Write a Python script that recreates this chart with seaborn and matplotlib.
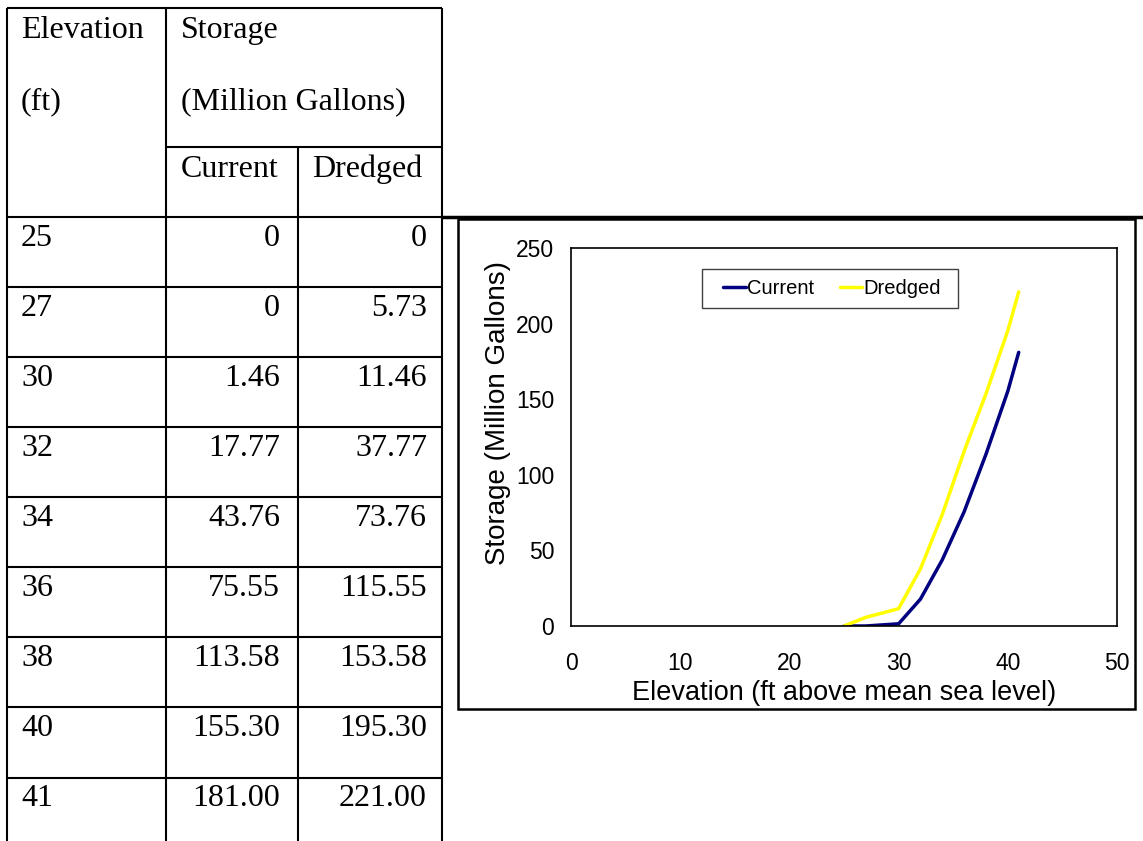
import matplotlib
matplotlib.use("Agg")
import matplotlib.pyplot as plt
from matplotlib.lines import Line2D
from matplotlib.patches import Rectangle
import pandas as pd
import seaborn as sns

# Reservoir storage by water-surface elevation
elevation_labels = ["25", "27", "30", "32", "34", "36", "38", "40", "41"]
current_labels = ["0", "0", "1.46", "17.77", "43.76", "75.55", "113.58", "155.30", "181.00"]
dredged_labels = ["0", "5.73", "11.46", "37.77", "73.76", "115.55", "153.58", "195.30", "221.00"]

elevation = [float(s) for s in elevation_labels]
current = [float(s) for s in current_labels]
dredged = [float(s) for s in dredged_labels]

series_names = ["Current", "Dredged"]
series_colors = {"Current": "#000080", "Dredged": "#FFFF00"}
x_ticks = [0, 10, 20, 30, 40, 50]
y_ticks = [0, 50, 100, 150, 200, 250]

W, H = 1143, 841
sns.set_theme(style="white")
plt.rcParams["font.family"] = ["Liberation Sans", "DejaVu Sans"]
plt.rcParams["text.color"] = "black"
plt.rcParams["axes.labelcolor"] = "black"

fig = plt.figure(figsize=(W / 100, H / 100), dpi=100)
fig.patch.set_facecolor("white")


def fx(x):
    return x / W


def fy(y):
    return 1 - y / H


def hline(x0, x1, y, lw=1.5, color="black"):
    fig.add_artist(Line2D([fx(x0), fx(x1)], [fy(y), fy(y)],
                          transform=fig.transFigure, color=color, lw=lw,
                          solid_capstyle="butt"))


def vline(x, y0, y1, lw=1.5, color="black"):
    fig.add_artist(Line2D([fx(x), fx(x)], [fy(y0), fy(y1)],
                          transform=fig.transFigure, color=color, lw=lw,
                          solid_capstyle="butt"))


# ---- table ----
serif = ["Liberation Serif", "DejaVu Serif"]
tsize = 23
col_x = [7, 166, 298, 442]
top = 8
sub_sep = 147
head_bottom = 216.7
row_h = 70.1
n_rows = len(elevation_labels)

vline(col_x[0], top, H + 2)
vline(col_x[1], top, H + 2)
vline(col_x[2], sub_sep, H + 2)
vline(col_x[3], top, H + 2)
hline(col_x[0], col_x[3], top)
hline(col_x[1], col_x[3], sub_sep)
for i in range(n_rows):
    hline(col_x[0], col_x[3], head_bottom + i * row_h)


def ttext(x, y, s, ha="left"):
    fig.text(fx(x), fy(y), s, ha=ha, va="baseline", fontsize=tsize,
             family=serif, color="black")


ttext(21, top + 30, "Elevation")
ttext(21, top + 101, "(ft)")
ttext(181, top + 30, "Storage")
ttext(181, top + 101, "(Million Gallons)")
ttext(181, sub_sep + 30, "Current")
ttext(312, sub_sep + 30, "Dredged")
for i in range(n_rows):
    yb = head_bottom + i * row_h + 29
    ttext(21, yb, elevation_labels[i])
    ttext(280, yb, current_labels[i], ha="right")
    ttext(427, yb, dredged_labels[i], ha="right")

# ---- chart frame ----
hline(442, W, 217, lw=2.5)
fig.add_artist(Rectangle((fx(458), fy(709)), fx(1135) - fx(458), fy(219) - fy(709),
                         transform=fig.transFigure, fill=False,
                         edgecolor="black", lw=1.8))

# ---- chart ----
df = pd.DataFrame({
    "Elevation": elevation * 2,
    "Storage": current + dredged,
    "Scenario": ["Current"] * n_rows + ["Dredged"] * n_rows,
})

ax_l, ax_r, ax_t, ax_b = 571, 1117, 248, 626
ax = fig.add_axes([fx(ax_l), fy(ax_b), fx(ax_r) - fx(ax_l), fy(ax_t) - fy(ax_b)])
sns.lineplot(data=df, x="Elevation", y="Storage", hue="Scenario",
             hue_order=series_names, palette=series_colors, linewidth=2.5,
             ax=ax)
ax.set_xlim(0, 50)
ax.set_ylim(0, 250)
ax.set_xticks(x_ticks)
ax.set_yticks(y_ticks)
ax.tick_params(axis="both", length=0, labelsize=16.5, colors="black")
ax.tick_params(axis="y", pad=12)
ax.tick_params(axis="x", pad=19)
for sp in ax.spines.values():
    sp.set_visible(True)
    sp.set_color("black")
    sp.set_linewidth(1.2)
ax.set_xlabel("Elevation (ft above mean sea level)", fontsize=19.5, labelpad=3)
ax.set_ylabel("Storage (Million Gallons)", fontsize=20)
ax.yaxis.set_label_coords((511 - ax_l) / (ax_r - ax_l), (ax_b - 413) / (ax_b - ax_t))
ax.grid(False)

# legend: frameless entries over a hand-sized box
sns.move_legend(ax, "center", bbox_to_anchor=(fx(832), fy(289)),
                bbox_transform=fig.transFigure, ncol=2, title=None,
                frameon=False, fontsize=14.5,
                handlelength=1.1, handletextpad=0.05, columnspacing=1.3,
                borderpad=0.2)
leg = ax.get_legend()
for h in leg.legend_handles:
    h.set_linewidth(2.5)
for t in leg.get_texts():
    t.set_color("black")
ax.add_patch(Rectangle((fx(702), fy(308)), fx(958) - fx(702), fy(269) - fy(308),
                       transform=fig.transFigure, facecolor="white",
                       edgecolor="#404040", lw=1.0, zorder=4, clip_on=False))

fig.savefig("out.png", dpi=100, facecolor="white")
